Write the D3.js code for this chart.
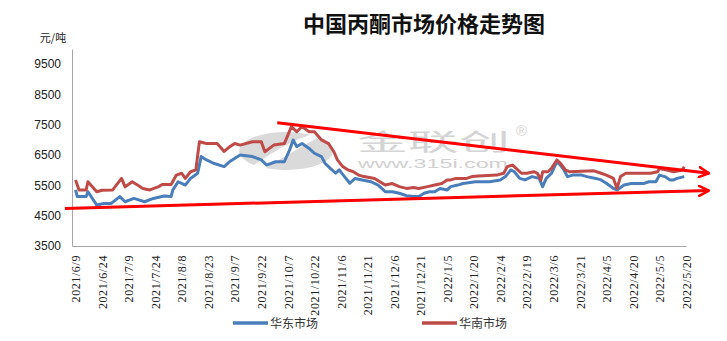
<!DOCTYPE html>
<html>
<head>
<meta charset="utf-8">
<script src="https://cdn.jsdelivr.net/npm/d3@7"></script>
<style>
  body { margin: 0; background: #fff; }
  svg { display: block; font-family: "Liberation Sans", Arial, sans-serif; }
</style>
</head>
<body>
<div id="chart"></div>
<script>
var width = 727,
    height = 341;

var title = '中国丙酮市场价格走势图';
var unitLabel = '元/吨';
var seriesNames = ['华东市场', '华南市场'];
var seriesColors = ['#4a7ebb', '#be4b48'];

var yTicks = [3500, 4500, 5500, 6500, 7500, 8500, 9500];
var xTickLabels = ['2021/6/9', '2021/6/24', '2021/7/9', '2021/7/24', '2021/8/8', '2021/8/23',
    '2021/9/7', '2021/9/22', '2021/10/7', '2021/10/22', '2021/11/6', '2021/11/21',
    '2021/12/6', '2021/12/21', '2022/1/5', '2022/1/20', '2022/2/4', '2022/2/19',
    '2022/3/6', '2022/3/21', '2022/4/5', '2022/4/20', '2022/5/5', '2022/5/20'];

// 华东市场
var eastDates = ['2021/6/9', '2021/6/10', '2021/6/15', '2021/6/16', '2021/6/21', '2021/6/25',
    '2021/6/29', '2021/7/4', '2021/7/7', '2021/7/12', '2021/7/18', '2021/7/23', '2021/7/29',
    '2021/8/2', '2021/8/3', '2021/8/6', '2021/8/10', '2021/8/13', '2021/8/17', '2021/8/19',
    '2021/8/22', '2021/8/26', '2021/9/1', '2021/9/4', '2021/9/10', '2021/9/17', '2021/9/22',
    '2021/9/25', '2021/9/30', '2021/10/5', '2021/10/8', '2021/10/10', '2021/10/12',
    '2021/10/15', '2021/10/19', '2021/10/22', '2021/10/26', '2021/10/28', '2021/10/31',
    '2021/11/3', '2021/11/5', '2021/11/8', '2021/11/11', '2021/11/14', '2021/11/18',
    '2021/11/23', '2021/11/27', '2021/11/30', '2021/12/1', '2021/12/5', '2021/12/9',
    '2021/12/13', '2021/12/17', '2021/12/20', '2021/12/23', '2021/12/26', '2021/12/29',
    '2022/1/1', '2022/1/5', '2022/1/7', '2022/1/11', '2022/1/14', '2022/1/21', '2022/1/29',
    '2022/2/4', '2022/2/7', '2022/2/10', '2022/2/12', '2022/2/15', '2022/2/18', '2022/2/22',
    '2022/2/26', '2022/2/28', '2022/3/2', '2022/3/5', '2022/3/8', '2022/3/10', '2022/3/12',
    '2022/3/14', '2022/3/17', '2022/3/22', '2022/3/25', '2022/3/30', '2022/4/2', '2022/4/5',
    '2022/4/9', '2022/4/11', '2022/4/15', '2022/4/19', '2022/4/26', '2022/4/29', '2022/5/3',
    '2022/5/5', '2022/5/8', '2022/5/11', '2022/5/13', '2022/5/15', '2022/5/19'];
var eastValues = [5350, 5130, 5130, 5290, 4850, 4900,
    4900, 5130, 4960, 5070, 4960, 5070, 5150,
    5130, 5350, 5620, 5510, 5730, 5900, 6450,
    6340, 6230, 6120, 6280, 6500, 6450, 6340,
    6170, 6280, 6280, 6670, 7000, 6780,
    6880, 6720, 6560, 6450, 6230, 6060,
    5900, 6010, 5790, 5570, 5730, 5680,
    5620, 5510, 5350, 5290, 5290, 5240,
    5160, 5130, 5130, 5240, 5290, 5290,
    5400, 5350, 5460, 5510, 5560, 5620, 5620,
    5680, 5790, 6010, 5950, 5730, 5680, 5790,
    5730, 5460, 5730, 5900, 6280, 6170, 6010,
    5790, 5840, 5840, 5790, 5730, 5680, 5570,
    5400, 5350, 5510, 5560, 5560, 5620, 5620,
    5840, 5790, 5680, 5680, 5730, 5790];

// 华南市场
var southDates = ['2021/6/9', '2021/6/11', '2021/6/15', '2021/6/16', '2021/6/21', '2021/6/24',
    '2021/6/30', '2021/7/5', '2021/7/7', '2021/7/11', '2021/7/14', '2021/7/17', '2021/7/21',
    '2021/7/26', '2021/7/28', '2021/8/2', '2021/8/5', '2021/8/8', '2021/8/10', '2021/8/13',
    '2021/8/16', '2021/8/18', '2021/8/22', '2021/8/28', '2021/9/1', '2021/9/4', '2021/9/7',
    '2021/9/10', '2021/9/17', '2021/9/22', '2021/9/24', '2021/9/29', '2021/10/5', '2021/10/9',
    '2021/10/12', '2021/10/15', '2021/10/19', '2021/10/22', '2021/10/26', '2021/10/30',
    '2021/11/2', '2021/11/4', '2021/11/7', '2021/11/10', '2021/11/13', '2021/11/16',
    '2021/11/19', '2021/11/25', '2021/11/28', '2021/12/1', '2021/12/5', '2021/12/9',
    '2021/12/13', '2021/12/17', '2021/12/20', '2021/12/25', '2021/12/29', '2022/1/2',
    '2022/1/5', '2022/1/7', '2022/1/10', '2022/1/16', '2022/1/19', '2022/1/23', '2022/2/2',
    '2022/2/6', '2022/2/8', '2022/2/11', '2022/2/13', '2022/2/16', '2022/2/19', '2022/2/23',
    '2022/2/25', '2022/2/27', '2022/2/28', '2022/3/3', '2022/3/5', '2022/3/8', '2022/3/10',
    '2022/3/13', '2022/3/15', '2022/3/29', '2022/4/2', '2022/4/5', '2022/4/9', '2022/4/11',
    '2022/4/13', '2022/4/16', '2022/4/30', '2022/5/4', '2022/5/5', '2022/5/9', '2022/5/13',
    '2022/5/18', '2022/5/19'];
var southValues = [5680, 5350, 5350, 5620, 5290, 5340,
    5350, 5730, 5450, 5620, 5510, 5400, 5350,
    5460, 5530, 5530, 5840, 5900, 5730, 5950,
    6010, 6940, 6880, 6880, 6620, 6770, 6880,
    6830, 6940, 6940, 6610, 6830, 6880, 7440,
    7270, 7440, 7270, 7270, 7000, 6880,
    6610, 6340, 6120, 6010, 5950, 5840,
    5790, 5730, 5620, 5510, 5560, 5460,
    5400, 5430, 5400, 5460, 5510, 5560,
    5680, 5680, 5730, 5730, 5790, 5810, 5840,
    5900, 6120, 6170, 6060, 5900, 5900, 5950,
    5900, 5680, 5950, 5950, 6060, 6340, 6230,
    6000, 5950, 5980, 5900, 5840, 5730, 5400,
    5790, 5900, 5900, 5950, 6060, 6010, 5950,
    6010, 6120];

// hand drawn trend arrows: [start date, start price, end date, end price]
var trendUpper = ['2021/10/1', 7570, '2022/6/2', 5900];
var trendLower = ['2021/6/3', 4740, '2022/6/2', 5330];

var parse = d3.timeParse('%Y/%m/%d');

var svg = d3.select('#chart').append('svg')
    .attr('width', width)
    .attr('height', height);

var x = d3.scaleTime()
    .domain([parse('2021/6/7'), parse('2022/5/20')])
    .range([72, 686]);
var y = d3.scaleLinear()
    .domain([3500, 10000])
    .range([246, 49]);

// watermark
var wm = svg.append('g').attr('class', 'watermark');
wm.append('ellipse')
    .attr('cx', 286).attr('cy', 151).attr('rx', 47).attr('ry', 19)
    .attr('fill', '#dadada');
wm.append('path')
    .attr('d', 'M250,168 C275,150 300,135 335,128 C310,142 285,156 262,170 Z')
    .attr('fill', '#fff');
wm.append('text')
    .attr('x', 357).attr('y', 150)
    .attr('textLength', 153).attr('lengthAdjust', 'spacingAndGlyphs')
    .attr('fill', '#d4d4d4')
    .style('font-family', '"Noto Sans CJK SC"')
    .style('font-size', '23px')
    .text('金联创');
wm.append('text')
    .attr('x', 516).attr('y', 136)
    .attr('fill', '#d4d4d4')
    .style('font-size', '15px')
    .text('®');
wm.append('text')
    .attr('x', 358).attr('y', 168)
    .attr('textLength', 150).attr('lengthAdjust', 'spacingAndGlyphs')
    .attr('fill', '#d0d0d0')
    .style('font-size', '12px')
    .text('www.315i.com');

// title
svg.append('text')
    .attr('x', 424).attr('y', 32)
    .attr('text-anchor', 'middle')
    .style('font-family', '"Noto Sans CJK SC"')
    .style('font-weight', 'bold')
    .style('font-size', '22px')
    .attr('fill', '#111')
    .text(title);

svg.append('text')
    .attr('x', 53).attr('y', 42)
    .attr('text-anchor', 'middle')
    .style('font-family', '"Noto Sans CJK SC"')
    .style('font-size', '11px')
    .attr('fill', '#222')
    .text(unitLabel);

// axes
var yAxis = svg.append('g')
    .attr('transform', 'translate(72,0)')
    .call(d3.axisLeft(y).tickValues(yTicks).tickSize(0).tickPadding(11).tickFormat(d3.format('d')));
yAxis.select('.domain').attr('stroke', '#a6a6a6');
yAxis.selectAll('text').style('font-size', '12px').attr('fill', '#222');

var xAxis = svg.append('g')
    .attr('transform', 'translate(0,246)')
    .call(d3.axisBottom(x).tickValues(xTickLabels.map(parse)).tickSize(0)
        .tickFormat(function(d, i) { return xTickLabels[i]; }));
xAxis.select('.domain').attr('stroke', '#a6a6a6');
xAxis.selectAll('text')
    .attr('transform', 'rotate(-90)')
    .attr('text-anchor', 'end')
    .attr('x', -9).attr('y', 0).attr('dy', '0.35em')
    .style('font-family', '"Liberation Serif", serif')
    .style('font-size', '12px')
    .style('letter-spacing', '0.6px')
    .attr('fill', '#222');

// price lines
var line = d3.line()
    .x(function(d) { return x(d.date); })
    .y(function(d) { return y(d.value); });

var series = [
    eastDates.map(function(d, i) { return {date: parse(d), value: eastValues[i]}; }),
    southDates.map(function(d, i) { return {date: parse(d), value: southValues[i]}; })
];

svg.selectAll('path.price')
    .data(series)
  .enter().append('path')
    .attr('class', 'price')
    .attr('d', line)
    .attr('fill', 'none')
    .attr('stroke', function(d, i) { return seriesColors[i]; })
    .attr('stroke-width', 3)
    .attr('stroke-linejoin', 'round');

// trend arrows
svg.append('defs').append('marker')
    .attr('id', 'arrow')
    .attr('viewBox', '0 0 12 12')
    .attr('refX', 11).attr('refY', 6)
    .attr('markerWidth', 12).attr('markerHeight', 12)
    .attr('markerUnits', 'userSpaceOnUse')
    .attr('orient', 'auto')
  .append('path')
    .attr('d', 'M1,1 L11,6 L1,11')
    .attr('fill', 'none')
    .attr('stroke', '#ff0000')
    .attr('stroke-width', 2.5)
    .attr('stroke-linecap', 'round')
    .attr('stroke-linejoin', 'round');

svg.selectAll('line.trend')
    .data([trendUpper, trendLower])
  .enter().append('line')
    .attr('class', 'trend')
    .attr('x1', function(d) { return x(parse(d[0])); })
    .attr('y1', function(d) { return y(d[1]); })
    .attr('x2', function(d) { return x(parse(d[2])); })
    .attr('y2', function(d) { return y(d[3]); })
    .attr('stroke', '#ff0000')
    .attr('stroke-width', 3)
    .attr('marker-end', 'url(#arrow)');

// legend
var legend = svg.selectAll('g.legend')
    .data(seriesNames)
  .enter().append('g')
    .attr('class', 'legend')
    .attr('transform', function(d, i) { return 'translate(' + (i ? 422 : 233) + ',323)'; });
legend.append('line')
    .attr('x1', 0).attr('x2', 35)
    .attr('stroke', function(d, i) { return seriesColors[i]; })
    .attr('stroke-width', 3.5);
legend.append('text')
    .attr('x', 37).attr('dy', '0.38em')
    .style('font-family', '"Noto Sans CJK SC"')
    .style('font-size', '12px')
    .attr('fill', '#333')
    .text(function(d) { return d; });
</script>
</body>
</html>
